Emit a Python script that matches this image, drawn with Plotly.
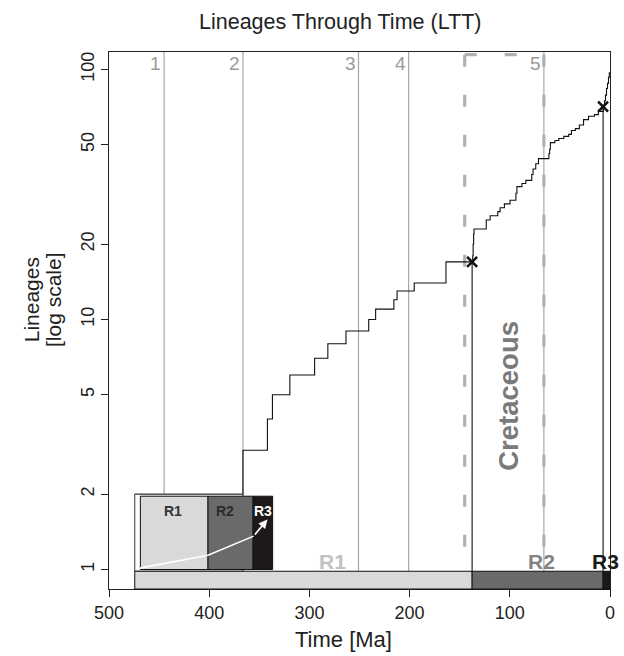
import numpy as np
import plotly.graph_objects as go

# ---------------- data ----------------
ltt_time = [474.3, 366.3, 341.9, 336.9, 319.5, 294.8, 281.6, 263.5, 240.8, 233.9,
            215.7, 212.5, 195.4, 163.7, 137.0, 136.6, 136.1, 135.7, 123.5, 119.6,
            112.0, 109.7, 105.4, 99.8, 93.9, 92.9, 87.9, 84.0, 78.1, 76.8,
            74.1, 71.4, 61.0, 60.2, 59.5, 55.0, 51.1, 46.1, 41.2, 38.5,
            34.6, 30.6, 26.4, 21.4, 15.5, 11.6, 6.6, 5.5, 4.5, 3.5,
            2.5, 1.5, 0.7]
ltt_lineages = [2, 3, 4, 5, 6, 7, 8, 9, 10, 11,
                12, 13, 14, 17, 18, 20, 22, 23, 25, 26,
                27, 28, 29, 30, 32, 34, 35, 36, 38, 40,
                42, 44, 46, 48, 51, 52, 53, 54, 55, 57,
                58, 60, 63, 65, 66, 68, 71, 75, 79, 84,
                88, 93, 97]
present_time = 0.0

shift_time = [137.6, 6.9]
shift_lineages = [17, 71]

regime_names = ["R1", "R2", "R3"]
regime_start = [474.3, 137.6, 6.9]
regime_end = [137.6, 6.9, 0.0]

extinction_time = [445, 366.3, 251, 201, 66]
extinction_labels = ["1", "2", "3", "4", "5"]

cretaceous_start, cretaceous_end = 145, 66

x_ticks = [500, 400, 300, 200, 100, 0]
y_ticks = [1, 2, 5, 10, 20, 50, 100]

# ---------------- styles / layout constants ----------------
regime_fill = ["#d9d9d9", "#6a6a6a", "#1d1919"]
regime_label_color = ["#c2c2c2", "#838383", "#1a1a1a"]
regime_label_x = [277, 68, 4.5]
inset_edges = [468.7, 401.2, 356.2, 336.7]
inset_label_x = [435.8, 384.7, 346.5]
inset_label_color = ["#333333", "#2a2a2a", "#ffffff"]
inset_top, inset_bottom = 1.964, 1.0
bar_top = 0.984
frame_right = 366.3

FONT = "Liberation Sans, Arial, Helvetica, sans-serif"
TXT = "#222222"
YMIN, YMAX = -0.078, 2.07


def ypap(v):
    return (np.log10(v) - YMIN) / (YMAX - YMIN)


def xpap(t):
    return (500 - t) / 500.0


fig = go.Figure()

shapes = []
for t in extinction_time:
    shapes.append(dict(type="line", xref="x", yref="paper", x0=t, x1=t, y0=0, y1=1,
                       line=dict(color="#a8a8a8", width=1.2), layer="below"))
dash = "12px,28px"
for t in (cretaceous_start, cretaceous_end):
    shapes.append(dict(type="line", xref="x", yref="paper", x0=t, x1=t, y0=0.995, y1=0,
                       line=dict(color="#b0b0b0", width=3.2, dash=dash), layer="below"))
shapes.append(dict(type="line", xref="x", yref="paper", x0=cretaceous_start, x1=cretaceous_end,
                   y0=0.995, y1=0.995,
                   line=dict(color="#b0b0b0", width=3.2, dash=dash), layer="below"))

# LTT curve
xs = ltt_time + [present_time]
ys = ltt_lineages + [ltt_lineages[-1]]
fig.add_trace(go.Scatter(x=xs, y=ys, mode="lines", line=dict(color="#111111", width=1.1, shape="hv"),
                         hoverinfo="skip", showlegend=False))

for t, v in zip(shift_time, shift_lineages):
    fig.add_trace(go.Scatter(x=[t, t], y=[0.9, v], mode="lines",
                             line=dict(color="#111111", width=1.1), hoverinfo="skip", showlegend=False))

fig.add_trace(go.Scatter(x=shift_time, y=shift_lineages, mode="markers",
                         marker=dict(symbol="x-thin", size=10, line=dict(color="#111111", width=2.6)),
                         hoverinfo="skip", showlegend=False))

shapes.append(dict(type="rect", xref="x", yref="paper", x0=regime_start[0], x1=frame_right,
                   y0=ypap(bar_top), y1=ypap(2.0), fillcolor="white",
                   line=dict(color="#333333", width=1), layer="above"))
for i in range(3):
    shapes.append(dict(type="rect", xref="x", yref="paper", x0=inset_edges[i], x1=inset_edges[i + 1],
                       y0=ypap(inset_bottom), y1=ypap(inset_top), fillcolor=regime_fill[i],
                       line=dict(color="#111111", width=1), layer="above"))
for i in range(3):
    shapes.append(dict(type="rect", xref="x", yref="paper", x0=regime_start[i], x1=regime_end[i],
                       y0=0, y1=ypap(bar_top), fillcolor=regime_fill[i],
                       line=dict(color="#111111", width=1), layer="above"))

arrow_t = [469.2, 401.2, 355.7, 341.9]
arrow_v = [1.013, 1.14, 1.36, 1.585]
path = "M " + " L ".join(f"{xpap(t):.5f},{ypap(v):.5f}" for t, v in zip(arrow_t[:3], arrow_v[:3]))
shapes.append(dict(type="path", xref="paper", yref="paper", path=path,
                   line=dict(color="white", width=1.6), layer="above"))

annotations = []
annotations.append(dict(xref="x", yref="y", x=arrow_t[3], y=np.log10(arrow_v[3]),
                        axref="x", ayref="y", ax=arrow_t[2], ay=np.log10(arrow_v[2]),
                        showarrow=True, arrowhead=2, arrowsize=1.1, arrowwidth=1.6,
                        arrowcolor="white", text=""))


def ann(x, y, text, size, color, xref="paper", yref="paper", angle=0, xanchor="center", **kw):
    return dict(xref=xref, yref=yref, x=x, y=y, text=text, showarrow=False, textangle=angle,
                xanchor=xanchor, yanchor="middle", font=dict(family=FONT, size=size, color=color), **kw)


for t, lab in zip(extinction_time, extinction_labels):
    annotations.append(ann(t, ypap(10 ** ((570 - 63.5) / 250.0)), lab, 19, "#9a9a9a",
                           xref="x", xanchor="right", xshift=-1))

annotations.append(ann(101.5, ypap(10 ** ((570 - 396) / 250.0)), "<b>Cretaceous</b>", 27.5, "#7a7a7a",
                       xref="x", angle=-90))

for i in range(3):
    annotations.append(ann(regime_label_x[i], ypap(10 ** ((570 - 562) / 250.0)),
                           f"<b>{regime_names[i]}</b>", 21, regime_label_color[i], xref="x"))
for i in range(3):
    annotations.append(ann(inset_label_x[i], ypap(1.72), f"<b>{regime_names[i]}</b>", 14,
                           inset_label_color[i], xref="x"))

annotations.append(ann((342 - 109) / 506, (589.5 - 22) / 537, "Lineages Through Time (LTT)", 21.5, TXT))
annotations.append(ann((346 - 109) / 506, (589.5 - 640) / 537, "Time [Ma]", 22, TXT))
annotations.append(ann((31 - 109) / 506, (589.5 - 300) / 537, "Lineages", 21, TXT, angle=-90))
annotations.append(ann((53 - 109) / 506, (589.5 - 300) / 537, "[log scale]", 21, TXT, angle=-90))

fig.update_layout(
    width=624, height=656,
    margin=dict(l=109, r=9, t=52, b=67),
    paper_bgcolor="white", plot_bgcolor="white",
    shapes=shapes, annotations=annotations,
    font=dict(family=FONT, size=18, color=TXT),
    xaxis=dict(range=[500, 0], tickvals=x_ticks, ticktext=[str(v) for v in x_ticks],
               ticks="outside", ticklen=7, tickcolor=TXT, showline=True, mirror=True,
               linecolor=TXT, linewidth=1, showgrid=False, zeroline=False,
               tickfont=dict(family=FONT, size=18, color=TXT)),
    yaxis=dict(type="log", range=[YMIN, YMAX], tickvals=y_ticks, ticktext=[str(v) for v in y_ticks],
               tickangle=-90, ticks="outside", ticklen=7, tickcolor=TXT, showline=True,
               mirror=True, linecolor=TXT, linewidth=1, showgrid=False, zeroline=False,
               tickfont=dict(family=FONT, size=18, color=TXT)),
)

fig.write_html("out.html", config={"displayModeBar": False},
               post_script="document.body.style.margin='0px';document.body.style.overflow='hidden';")
